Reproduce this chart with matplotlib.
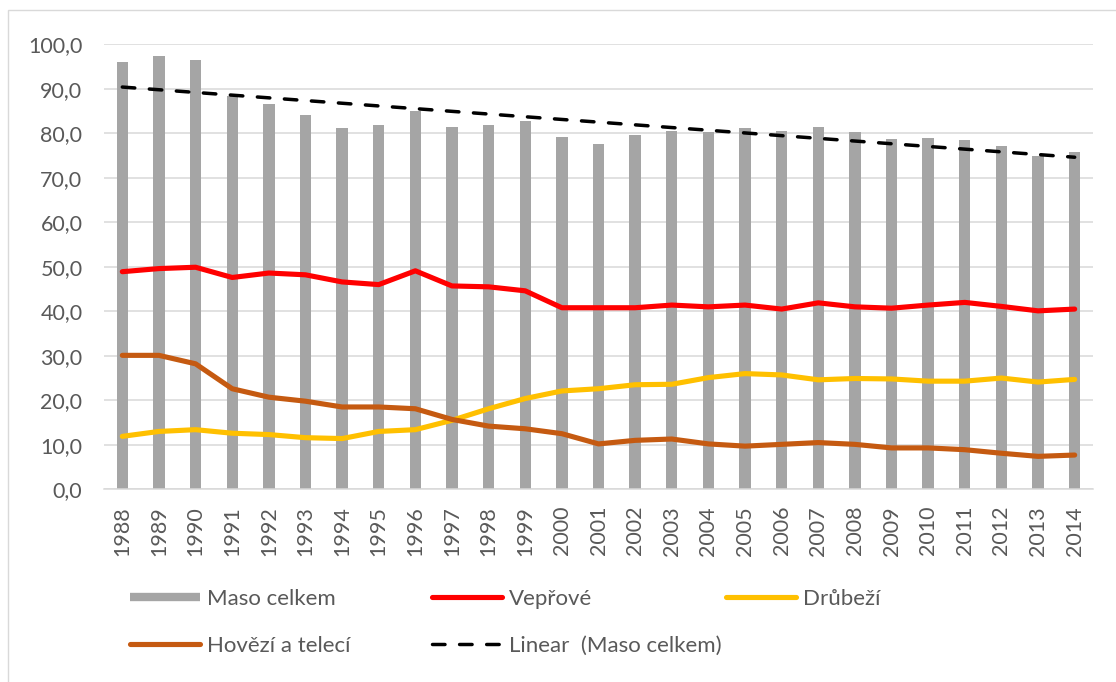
import numpy as np
import matplotlib.pyplot as plt
from matplotlib.lines import Line2D
from matplotlib.patches import Rectangle
from matplotlib.ticker import FuncFormatter

plt.rcParams['font.family'] = ['Lato', 'DejaVu Sans']

years = list(range(1988, 2015))
maso = [96.0, 97.3, 96.4, 88.3, 86.5, 84.2, 81.1, 81.8, 85.1,
        81.4, 81.9, 82.8, 79.2, 77.6, 79.7, 80.6, 80.4, 81.2,
        80.6, 81.4, 80.3, 78.7, 78.9, 78.5, 77.2, 74.8, 75.8]
veprove = [48.9, 49.6, 49.9, 47.6, 48.6, 48.2, 46.6, 46.0, 49.1,
           45.7, 45.5, 44.6, 40.8, 40.8, 40.8, 41.4, 41.0, 41.4,
           40.5, 41.9, 41.0, 40.7, 41.4, 42.0, 41.1, 40.1, 40.5]
drubezi = [11.9, 13.0, 13.4, 12.6, 12.3, 11.6, 11.4, 13.0, 13.4,
           15.5, 18.1, 20.4, 22.1, 22.6, 23.5, 23.6, 25.1, 26.0,
           25.7, 24.6, 24.9, 24.8, 24.3, 24.3, 25.0, 24.1, 24.7]
hovezi = [30.1, 30.1, 28.2, 22.6, 20.7, 19.8, 18.5, 18.5, 18.1,
          15.7, 14.2, 13.6, 12.5, 10.2, 11.0, 11.3, 10.2, 9.7,
          10.1, 10.5, 10.1, 9.3, 9.3, 8.9, 8.1, 7.4, 7.7]

txt = '#595959'
grid = '#D9D9D9'
dash = (3.6, 4.2)

fig = plt.figure(figsize=(11.16, 6.82), dpi=100)
fig.patches.append(Rectangle((8/1116, -0.1), 1.2, 1 - 10/682 + 0.1,
                             transform=fig.transFigure, fill=False,
                             edgecolor=grid, lw=1))
ax = fig.add_axes([104/1116, 1 - 489.3/682, (1093-104)/1116, (489.3-44.3)/682])

x = np.arange(len(years))
ax.bar(x, maso, width=0.31, color='#A5A5A5', zorder=2)
ax.plot(x, veprove, color='#FF0000', lw=3.7, solid_capstyle='round', zorder=3)
ax.plot(x, drubezi, color='#FFC000', lw=3.7, solid_capstyle='round', zorder=3)
ax.plot(x, hovezi, color='#C55A11', lw=3.7, solid_capstyle='round', zorder=3)

# linear trend of Maso celkem
k, q = np.polyfit(x, maso, 1)
ax.plot(x, k*x + q, color='black', lw=2.5, dashes=dash,
        dash_capstyle='round', zorder=4)

ax.set_xlim(-0.5, len(years) - 0.5)
ax.set_ylim(0, 100)
ax.set_yticks(np.arange(0, 101, 10))
ax.yaxis.set_major_formatter(FuncFormatter(lambda v, p: f'{v:.1f}'.replace('.', ',')))
ax.set_xticks(x)
ax.set_xticklabels([str(y) for y in years], rotation=90)
ax.tick_params(axis='y', length=0, pad=15.5, labelsize=15.5, labelcolor=txt)
ax.tick_params(axis='x', length=0, pad=12, labelsize=15.5, labelcolor=txt)
ax.grid(axis='y', color=grid, lw=1.1, zorder=0)
for s in ['top', 'right', 'left']:
    ax.spines[s].set_visible(False)
ax.spines['bottom'].set_color(grid)
ax.spines['bottom'].set_linewidth(1.1)

h_maso = Line2D([], [], color='#A5A5A5', lw=6, solid_capstyle='butt')
h_vep = Line2D([], [], color='#FF0000', lw=3.7, solid_capstyle='round')
h_dru = Line2D([], [], color='#FFC000', lw=3.7, solid_capstyle='round')
h_hov = Line2D([], [], color='#C55A11', lw=3.7, solid_capstyle='round')
h_lin = Line2D([], [], color='black', lw=2.5, dashes=dash, dash_capstyle='round')

leg_kw = dict(frameon=False, fontsize=16, labelcolor=txt, handlelength=3.15,
              handletextpad=0.3, borderpad=0, borderaxespad=0, labelspacing=1.2)
fig.legend([h_maso, h_hov, h_vep, h_lin],
           ['Maso celkem', 'Hovězí a telecí', 'Vepřové', 'Linear  (Maso celkem)'],
           ncol=2, columnspacing=3.7, loc='upper left',
           bbox_to_anchor=(130/1116, 1 - 589/682), **leg_kw)
fig.legend([h_dru], ['Drůbeží'], loc='upper left',
           bbox_to_anchor=(726/1116, 1 - 589/682), **leg_kw)

fig.savefig('out.png', dpi=100)
